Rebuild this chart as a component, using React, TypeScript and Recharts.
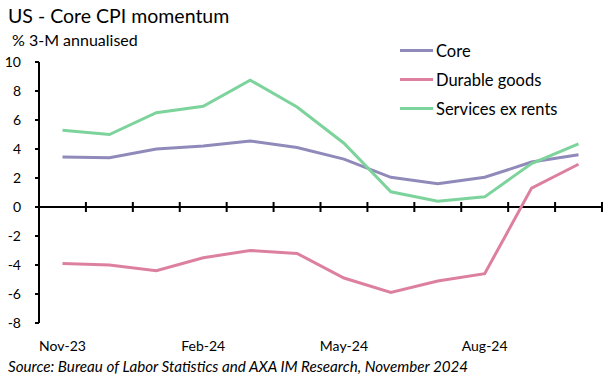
import React from 'react';
import {
  LineChart,
  Line,
  XAxis,
  YAxis,
  ReferenceLine
} from 'recharts';

// Months, Nov-23 .. Oct-24
const months = [
  'Nov-23', 'Dec-23', 'Jan-24', 'Feb-24', 'Mar-24', 'Apr-24',
  'May-24', 'Jun-24', 'Jul-24', 'Aug-24', 'Sep-24', 'Oct-24'
];

const core = [3.45, 3.4, 4.0, 4.2, 4.55, 4.1, 3.3, 2.05, 1.6, 2.05, 3.1, 3.6];
const durableGoods = [-3.9, -4.0, -4.4, -3.5, -3.0, -3.2, -4.9, -5.9, -5.1, -4.6, 1.3, 2.95];
const servicesExRents = [5.3, 5.0, 6.5, 6.95, 8.75, 6.9, 4.4, 1.05, 0.4, 0.7, 3.0, 4.35];

const yTicks = [-8, -6, -4, -2, 0, 2, 4, 6, 8, 10];

const FONT = 'Lato, "Open Sans", sans-serif';

const series = [
  { key: 'core', name: 'Core', color: '#8f8ab9' },
  { key: 'durable', name: 'Durable goods', color: '#dd80a0' },
  { key: 'services', name: 'Services ex rents', color: '#7dd39c' },
];

const data = months.map((m, i) => ({
  month: m,
  core: core[i],
  durable: durableGoods[i],
  services: servicesExRents[i],
}));

// zero line with the category tick marks on it
const ZeroAxis = (props: any) => {
  const { x1, x2, y1 } = props;
  const n = months.length;
  const step = (x2 - x1) / n;
  const ticks = [];
  for (let i = 0; i <= n; i++) {
    const x = x1 + step * i;
    ticks.push(<line key={i} x1={x} x2={x} y1={y1 - 5} y2={y1 + 5} stroke="#000" strokeWidth={2} />);
  }
  return (
    <g>
      <line x1={x1} x2={x2} y1={y1} y2={y1} stroke="#000" strokeWidth={2} />
      {ticks}
    </g>
  );
};

export default function App() {
  return (
    <div style={{ position: 'absolute', left: 0, top: 0, width: 615, height: 379, background: '#fff', fontFamily: FONT }}>
      <div style={{ position: 'absolute', left: 8, top: 4, fontSize: 19.5, lineHeight: '24px' }}>
        US - Core CPI momentum
      </div>
      <div style={{ position: 'absolute', left: 12, top: 30, fontSize: 16, lineHeight: '20px' }}>
        % 3-M annualised
      </div>
      <LineChart
        width={615}
        height={379}
        data={data}
        margin={{ top: 62, right: 13, bottom: 26, left: 0 }}
      >
        <XAxis
          dataKey="month"
          interval={2}
          axisLine={false}
          tickLine={false}
          height={30}
          tickMargin={12}
          padding={{ left: 23.5, right: 23.5 }}
          tick={{ fill: '#000', fontSize: 14, fontFamily: FONT }}
        />
        <YAxis
          width={39}
          domain={[-8, 10]}
          ticks={yTicks}
          allowDataOverflow
          axisLine={{ stroke: '#000', strokeWidth: 2 }}
          tickLine={{ stroke: '#000', strokeWidth: 2 }}
          tickSize={4}
          tickMargin={14}
          tick={{ fill: '#000', fontSize: 14, fontFamily: FONT }}
        />
        <ReferenceLine y={0} shape={ZeroAxis} />
        {series.map((s) => (
          <Line
            key={s.key}
            type="linear"
            dataKey={s.key}
            name={s.name}
            stroke={s.color}
            strokeWidth={3}
            dot={false}
            activeDot={false}
            isAnimationActive={false}
          />
        ))}
      </LineChart>
      <div style={{ position: 'absolute', left: 400, top: 36, fontSize: 16.5 }}>
        {series.map((s) => (
          <div key={s.key} style={{ display: 'flex', alignItems: 'center', height: 29 }}>
            <span style={{ display: 'inline-block', width: 33, height: 3, background: s.color, marginRight: 3 }} />
            <span>{s.name}</span>
          </div>
        ))}
      </div>
      <div style={{ position: 'absolute', left: 8, top: 356, fontSize: 15.2, fontStyle: 'italic', lineHeight: '20px' }}>
        Source: Bureau of Labor Statistics and AXA IM Research, November 2024
      </div>
    </div>
  );
}
